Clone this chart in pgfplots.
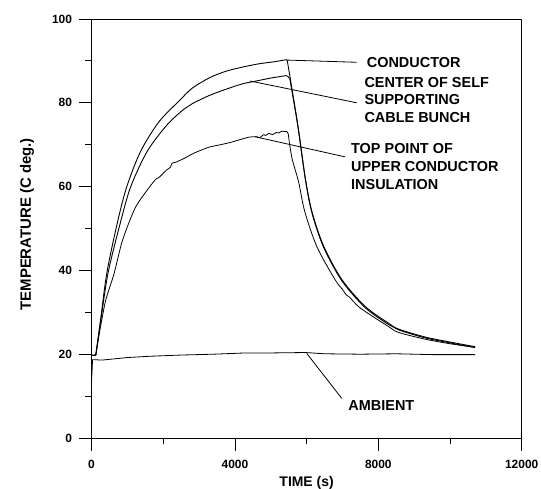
\documentclass[border=0pt]{standalone}
\usepackage{fontspec}
\setmainfont{Liberation Sans}
\usepackage{pgfplots}
\pgfplotsset{compat=1.18}
\usepackage{pgfplotstable}

\pgfplotstableread{
t T
0 19.7
120 19.8
250 28.0
430 39.5
725 51.5
985 60.0
1375 68.5
1885 75.5
2450 80.5
2811 83.5
3300 86.0
3740 87.5
4200 88.5
4667 89.3
5100 89.8
5438 90.3
5460 90.1
5750 75.0
5965 62.0
6150 54.0
6475 45.8
6985 37.8
7635 31.4
8285 27.4
8565 26.0
9305 24.1
10000 22.9
10700 21.8
}\conductor

\pgfplotstableread{
t T
0 19.7
120 19.8
250 27.5
460 39.3
800 51.2
1095 60.0
1560 68.5
2115 74.8
2580 78.5
2811 79.8
3300 81.8
3740 83.2
4200 84.5
4537 85.1
5000 85.9
5438 86.5
5470 86.3
5530 85.8
5750 74.7
5965 61.7
6150 53.7
6475 45.5
6985 37.5
7635 31.1
8285 27.1
8565 25.8
9305 23.9
10000 22.7
10700 21.6
}\center

\pgfplotstableread{
t T
0 19.7
120 19.8
250 26.5
400 33.0
632 39.3
865 47.2
1235 55.2
1745 61.3
1884 62.2
2100 64.0
2200 64.6
2250 65.6
2349 65.8
2600 66.8
2860 68.0
3276 69.4
3600 70.0
3900 70.6
4389 71.8
4600 71.9
4700 71.7
4800 72.4
4854 72.2
4950 72.7
5050 72.4
5150 72.9
5224 72.8
5300 73.2
5455 73.1
5490 72.5
5520 70.5
5600 66.5
5780 61.0
5950 54.0
6290 45.6
6800 37.7
7000 35.5
7100 34.2
7200 33.6
7500 31.0
8285 26.6
8565 25.2
9300 23.6
10000 22.5
10700 21.6
}\insulation

\pgfplotstableread{
t T
0 13.2
30 18.7
300 18.6
1000 19.2
1605 19.5
2500 19.8
3400 20.0
4297 20.3
5000 20.3
5967 20.4
6500 20.1
7500 20.0
8500 20.1
9500 19.9
10700 19.9
}\ambient

\begin{document}
\begin{tikzpicture}
\begin{axis}[
  width=430.2bp, height=419bp, scale only axis,
  xmin=0, xmax=12000, ymin=0, ymax=100,
  xtick={0,4000,8000,12000}, minor xtick={2000,6000,10000},
  ytick={0,20,40,60,80,100}, minor ytick={10,30,50,70,90},
  tick align=outside, xtick pos=bottom, ytick pos=left,
  major tick length=13bp, minor tick length=6bp,
  tick style={black, line width=0.8bp},
  axis line style={black, line width=0.9bp},
  scaled x ticks=false,
  /pgf/number format/1000 sep={},
  /pgf/number format/assume math mode=true,
  tick label style={font=\fontsize{12}{14}\selectfont\bfseries},
  yticklabel style={xshift=-3bp},
  xticklabel style={yshift=-6bp},
  clip=false,
  line join=round,
]
% conductor
\addplot[black, line width=0.9bp] table[x=t,y=T, restrict x to domain=0:120] {\conductor};
\addplot[black, line width=0.9bp, smooth, tension=0.5] table[x=t,y=T, restrict x to domain=120:5438] {\conductor};
\addplot[black, line width=0.9bp] table[x=t,y=T, restrict x to domain=5438:5460] {\conductor};
\addplot[black, line width=0.9bp, smooth, tension=0.5] table[x=t,y=T, restrict x to domain=5460:10700] {\conductor};
% center
\addplot[black, line width=0.9bp] table[x=t,y=T, restrict x to domain=0:120] {\center};
\addplot[black, line width=0.9bp, smooth, tension=0.5] table[x=t,y=T, restrict x to domain=120:5438] {\center};
\addplot[black, line width=0.9bp] table[x=t,y=T, restrict x to domain=5438:5530] {\center};
\addplot[black, line width=0.9bp, smooth, tension=0.5] table[x=t,y=T, restrict x to domain=5530:10700] {\center};
% insulation
\addplot[black, line width=0.8bp] table[x=t,y=T, restrict x to domain=0:120] {\insulation};
\addplot[black, line width=0.8bp, smooth, tension=0.4] table[x=t,y=T, restrict x to domain=120:5455] {\insulation};
\addplot[black, line width=0.8bp] table[x=t,y=T, restrict x to domain=5455:5520] {\insulation};
\addplot[black, line width=0.8bp, smooth, tension=0.5] table[x=t,y=T, restrict x to domain=5520:10700] {\insulation};
% ambient
\addplot[black, line width=0.8bp] table[x=t,y=T] {\ambient};

\draw[black, line width=0.8bp] (axis cs:5445,90.2) -- (axis cs:7397,89.67);
\draw[black, line width=0.8bp] (axis cs:4421,85.2) -- (axis cs:7397,80.0);
\draw[black, line width=0.8bp] (axis cs:4561,71.9) -- (axis cs:7071,67.1);
\draw[black, line width=0.8bp] (axis cs:6003,20.2) -- (axis cs:6979,9.47);

\tikzset{lab/.style={anchor=west, inner sep=0pt, font=\fontsize{14.5}{16}\selectfont\bfseries}}
\node[lab] at (axis cs:7676,89.67) {CONDUCTOR};
\node[lab] at (axis cs:7610,84.9) {CENTER OF SELF};
\node[lab] at (axis cs:7610,80.67) {SUPPORTING};
\node[lab] at (axis cs:7610,76.54) {CABLE BUNCH};
\node[lab] at (axis cs:7238,69.14) {TOP POINT OF};
\node[lab] at (axis cs:7238,64.75) {UPPER CONDUCTOR};
\node[lab] at (axis cs:7238,60.6) {INSULATION};
\node[lab] at (axis cs:7163,7.64) {AMBIENT};

\node[anchor=base, inner sep=0pt, font=\fontsize{14}{16}\selectfont\bfseries] at (axis cs:6000,-11.5) {TIME (s)};
\node[anchor=base, rotate=90, inner sep=0pt, font=\fontsize{15}{17}\selectfont\bfseries] at (axis cs:-1690,51.0) {TEMPERATURE (C deg.)};

\coordinate (sw) at (rel axis cs:0,0);
\coordinate (ne) at (rel axis cs:1,1);
\end{axis}
\pgfresetboundingbox
\path ([shift={(-91.5bp,-51bp)}]sw) rectangle ([shift={(19.3bp,19bp)}]ne);
\end{tikzpicture}
\end{document}
